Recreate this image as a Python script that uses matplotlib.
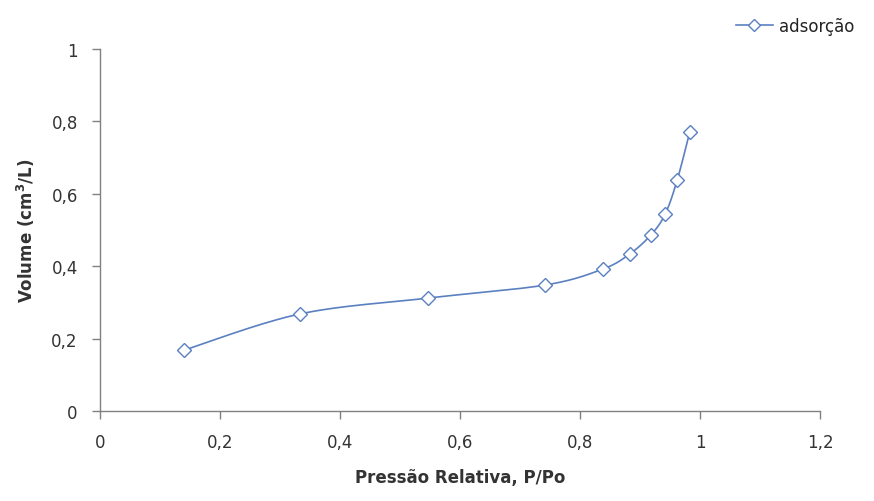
import numpy as np
import matplotlib
matplotlib.use("Agg")
import matplotlib.pyplot as plt
from matplotlib.ticker import FuncFormatter

pressure = [0.14, 0.333, 0.547, 0.742, 0.838, 0.883, 0.918, 0.942, 0.962, 0.983]
volume = [0.168, 0.268, 0.312, 0.348, 0.392, 0.434, 0.486, 0.544, 0.638, 0.771]
series_name = "adsorção"

COLOR = "#5B80C2"
plt.rcParams["font.family"] = ["DejaVu Sans"]

fig = plt.figure(figsize=(8.74, 5.02), dpi=100)
ax = fig.add_axes([100/874, 1-412/502, 720/874, 362/502])
ax.set_xlim(0, 1.2)
ax.set_ylim(0, 1)


def smooth(xs, ys, n=30):
    # Excel-like smoothing (Catmull-Rom bezier) in display-scaled space
    sx, sy = 720/1.2, 362/1.0
    P = np.column_stack([np.array(xs)*sx, np.array(ys)*sy])
    out = [P[0]]
    for i in range(len(P)-1):
        p0 = P[i-1] if i > 0 else P[i]
        p1 = P[i]
        p2 = P[i+1]
        p3 = P[i+2] if i+2 < len(P) else P[i+1]
        c1 = p1 + (p2 - p0)/6
        c2 = p2 - (p3 - p1)/6
        t = np.linspace(0, 1, n)[1:, None]
        seg = (1-t)**3*p1 + 3*(1-t)**2*t*c1 + 3*(1-t)*t**2*c2 + t**3*p2
        out.extend(seg)
    out = np.array(out)
    return out[:, 0]/sx, out[:, 1]/sy


cx, cy = smooth(pressure, volume)
ax.plot(cx, cy, color=COLOR, lw=1.2, zorder=2)
ax.plot(pressure, volume, linestyle="none", marker="D", markersize=7.5,
        markerfacecolor="white", markeredgecolor=COLOR, markeredgewidth=1.0, zorder=3)

# legend proxy
ax.plot([], [], color=COLOR, lw=1.2, marker="D", markersize=6,
        markerfacecolor="white", markeredgecolor=COLOR, markeredgewidth=1.0, label=series_name)
leg = fig.legend(loc="upper right", bbox_to_anchor=(0.995, 0.995), frameon=False,
                 fontsize=12, handlelength=2.2, handletextpad=0.4)
for t in leg.get_texts():
    t.set_color("#222222")

fmt = FuncFormatter(lambda v, p: ("%g" % round(v, 2)).replace(".", ","))
ax.set_xticks(np.arange(0, 1.21, 0.2))
ax.set_yticks(np.arange(0, 1.01, 0.2))
ax.xaxis.set_major_formatter(fmt)
ax.yaxis.set_major_formatter(fmt)

for s in ["top", "right"]:
    ax.spines[s].set_visible(False)
for s in ["left", "bottom"]:
    ax.spines[s].set_color("#808080")
    ax.spines[s].set_linewidth(1.0)
ax.tick_params(direction="out", length=6, width=1.0, color="#808080",
               labelsize=12, labelcolor="#333333", pad=10)

ax.set_xlabel("Pressão Relativa, P/Po", fontsize=12, fontweight="bold",
              color="#333333", labelpad=12)
ax.set_ylabel("Volume (cm$^\\mathbf{3}$/L)", fontsize=12, fontweight="bold",
              color="#333333", labelpad=10)

fig.savefig("out.png", dpi=100)
